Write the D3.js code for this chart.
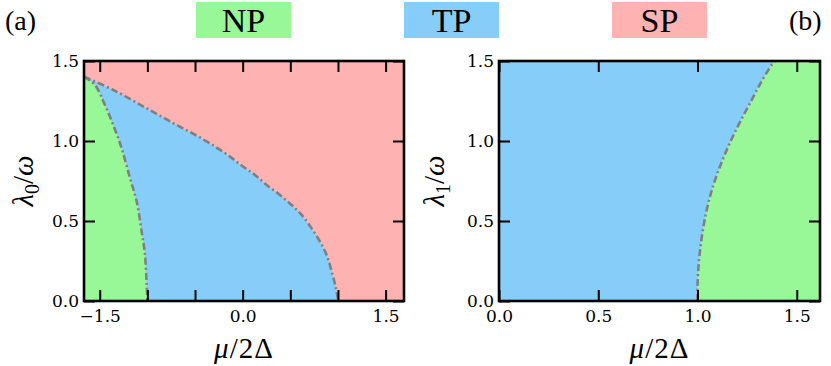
<!DOCTYPE html>
<html>
<head>
<meta charset="utf-8">
<script src="https://cdn.jsdelivr.net/npm/d3@7"></script>
<style>
  body { margin: 0; background: #fff; }
  text { font-family: "Liberation Serif", "DejaVu Serif", serif; fill: #000; }
</style>
</head>
<body>
<div id="chart"></div>
<script>
// phase labels for the legend
const phases = ["NP", "TP", "SP"];
const phaseColors = ["#98f898", "#87cdf9", "#ffb2b2"];

// panel (a): NP/TP boundary, from top left down to the axis
const boundaryNpTpA = [
  [-1.665, 1.402], [-1.550, 1.350], [-1.445, 1.225], [-1.358, 1.100],
  [-1.270, 0.954], [-1.182, 0.767], [-1.112, 0.621], [-1.060, 0.433],
  [-1.025, 0.288], [-1.007, 0.100], [-1.000, 0.000]
];
// panel (a): TP/SP boundary
const boundaryTpSpA = [
  [-1.665, 1.402], [-1.358, 1.319], [-1.007, 1.204], [-0.693, 1.100],
  [-0.448, 1.022], [-0.273, 0.959], [-0.133, 0.902], [0.006, 0.839],
  [0.129, 0.788], [0.252, 0.725], [0.391, 0.663], [0.514, 0.600],
  [0.619, 0.538], [0.724, 0.454], [0.811, 0.371], [0.881, 0.288],
  [0.934, 0.183], [0.979, 0.079], [1.003, 0.000]
];
// panel (b): TP/NP boundary, from the axis up to the top
const boundaryB = [
  [1.000, 0.000], [1.000, 0.100], [1.007, 0.246], [1.023, 0.413],
  [1.048, 0.579], [1.080, 0.725], [1.120, 0.863], [1.165, 0.994],
  [1.214, 1.119], [1.265, 1.238], [1.315, 1.356], [1.373, 1.475],
  [1.390, 1.500]
];

const xTicksA = [-1.5, -1.0, -0.5, 0.0, 0.5, 1.0, 1.5];
const xLabelsA = [-1.5, 0.0, 1.5];
const xTicksB = [0.0, 0.5, 1.0, 1.5];
const yTicks = [0.0, 0.5, 1.0, 1.5];

const width = 831, height = 366;
const serif = "'Liberation Serif', 'DejaVu Serif', serif";
const tickFont = "'DejaVu Serif', serif";
const svg = d3.select("#chart").append("svg")
  .attr("width", width).attr("height", height);

const fmt = d3.format(".1f");

// legend
const legendX = [196, 404, 612];
phases.forEach((p, i) => {
  svg.append("rect")
    .attr("x", legendX[i]).attr("y", 2)
    .attr("width", 95).attr("height", 36)
    .attr("fill", phaseColors[i]);
  svg.append("text")
    .attr("x", legendX[i] + 47.5).attr("y", 32)
    .attr("text-anchor", "middle")
    .style("font-family", serif)
    .style("font-size", "34px")
    .text(p);
});

svg.append("text").attr("x", 5).attr("y", 30)
  .style("font-family", serif).style("font-size", "28px").text("(a)");
svg.append("text").attr("x", 789).attr("y", 30)
  .style("font-family", serif).style("font-size", "28px").text("(b)");

function panel(opts) {
  const x = d3.scaleLinear().domain(opts.xDomain).range(opts.xRange);
  const y = d3.scaleLinear().domain([0, 1.5]).range([301, 61]);
  const g = svg.append("g");

  const clipId = "clip" + opts.id;
  svg.append("clipPath").attr("id", clipId)
    .append("rect")
    .attr("x", opts.xRange[0]).attr("y", 61)
    .attr("width", opts.xRange[1] - opts.xRange[0]).attr("height", 240);

  const area = g.append("g").attr("clip-path", `url(#${clipId})`);
  const line = d3.line().x(d => x(d[0])).y(d => y(d[1])).curve(d3.curveCatmullRom);
  const corner = p => "L" + x(p[0]) + "," + y(p[1]);

  area.append("rect")
    .attr("x", opts.xRange[0]).attr("y", 61)
    .attr("width", opts.xRange[1] - opts.xRange[0]).attr("height", 240)
    .attr("fill", opts.background);

  // each region: smooth boundary pieces joined by straight edges along the frame
  opts.regions.forEach(r => {
    let d = "";
    r.pieces.forEach((piece, i) => {
      if (piece.length === 1) { d += corner(piece[0]); return; }
      const s = line(piece);
      d += i === 0 ? s : "L" + s.slice(1);
    });
    area.append("path").attr("d", d + "Z").attr("fill", r.color);
  });

  opts.boundaries.forEach(b => {
    area.append("path")
      .attr("d", line(b))
      .attr("fill", "none")
      .attr("stroke", "#808080")
      .attr("stroke-width", 2.6)
      .attr("stroke-dasharray", "7,3,2,3");
  });

  const labelFmt = d => opts.xLabels.includes(d) ? fmt(d) : "";

  const bottom = g.append("g").attr("transform", "translate(0,301)")
    .call(d3.axisBottom(x).tickValues(opts.xTicks).tickSize(-11).tickPadding(9).tickFormat(labelFmt));
  const top = g.append("g").attr("transform", "translate(0,61)")
    .call(d3.axisTop(x).tickValues(opts.xTicks).tickSize(-11).tickFormat(""));
  const left = g.append("g").attr("transform", `translate(${opts.xRange[0]},0)`)
    .call(d3.axisLeft(y).tickValues(yTicks).tickSize(-11).tickPadding(5).tickFormat(fmt));
  const right = g.append("g").attr("transform", `translate(${opts.xRange[1]},0)`)
    .call(d3.axisRight(y).tickValues(yTicks).tickSize(-11).tickFormat(""));

  [bottom, top, left, right].forEach(a => {
    a.attr("font-family", null).attr("font-size", null);
    a.select(".domain").remove();
    a.selectAll(".tick line").attr("stroke", "#000").attr("stroke-width", 2);
    a.selectAll(".tick text")
      .style("font-family", tickFont)
      .style("font-size", "17px").attr("fill", "#000");
  });

  g.append("rect")
    .attr("x", opts.xRange[0]).attr("y", 61)
    .attr("width", opts.xRange[1] - opts.xRange[0]).attr("height", 240)
    .attr("fill", "none").attr("stroke", "#000").attr("stroke-width", 2.6);

  // axis titles
  const xt = g.append("text")
    .attr("x", (opts.xRange[0] + opts.xRange[1]) / 2).attr("y", 358)
    .attr("text-anchor", "middle")
    .style("font-family", serif).style("font-size", "29px")
    .style("letter-spacing", "1px");
  xt.append("tspan").style("font-style", "italic").text("μ");
  xt.append("tspan").text("/2Δ");

  const yt = g.append("text")
    .attr("transform", `translate(${opts.yLabelX},181) rotate(-90)`)
    .attr("text-anchor", "middle")
    .style("font-family", serif).style("font-size", "29px");
  yt.append("tspan").style("font-style", "italic").text("λ");
  yt.append("tspan").attr("dy", 6).style("font-size", "20px").text(opts.sub);
  yt.append("tspan").attr("dy", -6).text("/");
  yt.append("tspan").style("font-style", "italic").text("ω");
}

const xDomainA = [-1.665, 1.693];
panel({
  id: "a",
  xDomain: xDomainA, xRange: [84, 404],
  xTicks: xTicksA, xLabels: xLabelsA,
  background: phaseColors[2],
  regions: [
    { color: phaseColors[0], pieces: [boundaryNpTpA, [[xDomainA[0], 0]]] },
    { color: phaseColors[1], pieces: [boundaryNpTpA, boundaryTpSpA.slice().reverse()] }
  ],
  boundaries: [boundaryNpTpA, boundaryTpSpA],
  yLabelX: 33, sub: "0"
});

const xDomainB = [0, 1.617];
panel({
  id: "b",
  xDomain: xDomainB, xRange: [499, 820],
  xTicks: xTicksB, xLabels: xTicksB,
  background: phaseColors[1],
  regions: [
    { color: phaseColors[0], pieces: [boundaryB, [[xDomainB[1], 1.5]], [[xDomainB[1], 0]]] }
  ],
  boundaries: [boundaryB],
  yLabelX: 444, sub: "1"
});
</script>
</body>
</html>
